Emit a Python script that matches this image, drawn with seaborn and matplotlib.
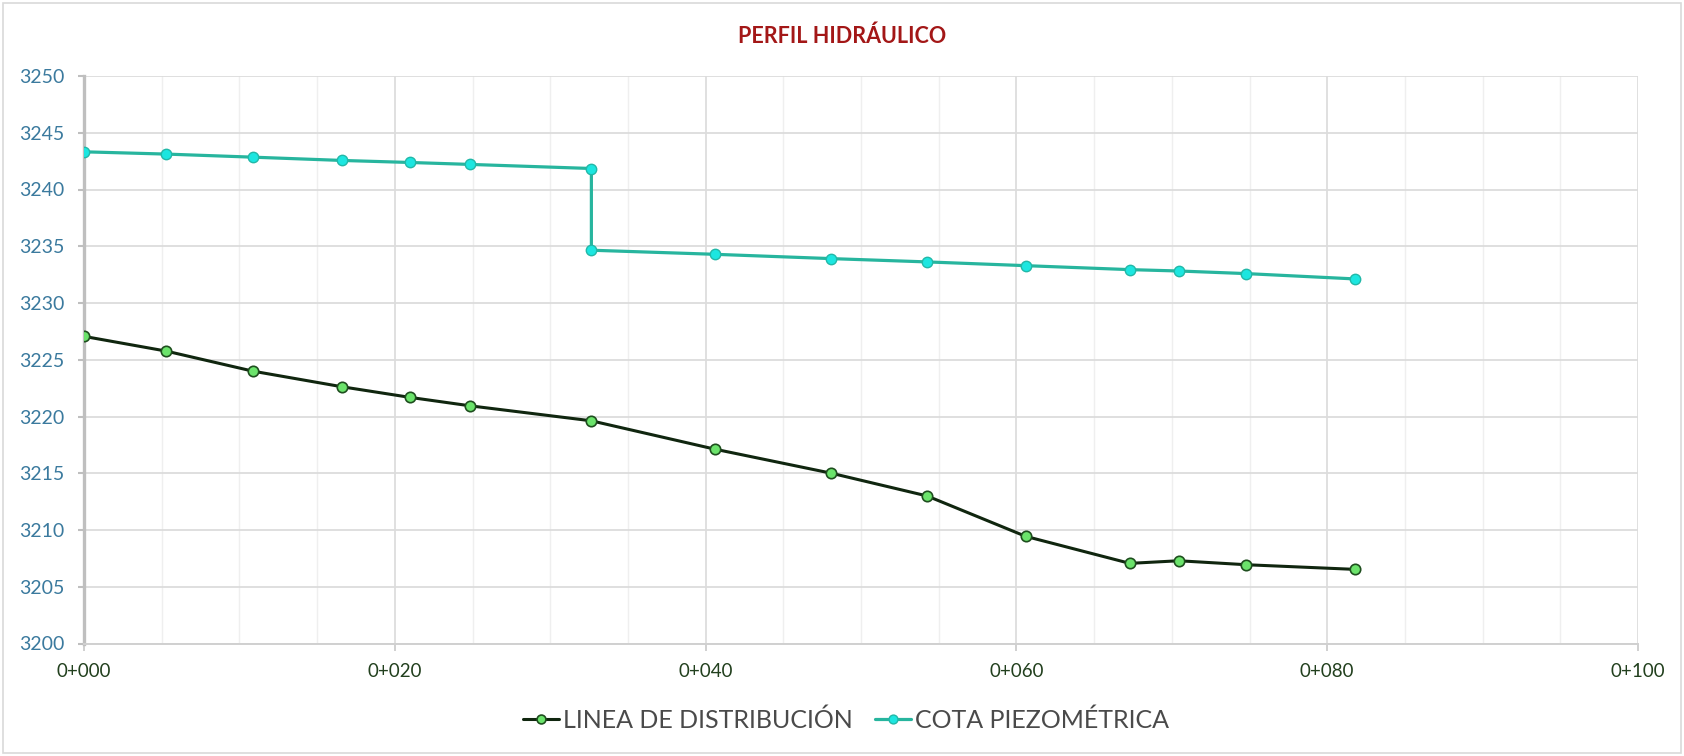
import matplotlib
matplotlib.use("Agg")
import matplotlib.pyplot as plt
from matplotlib.ticker import MultipleLocator, FixedLocator
from matplotlib.patches import Rectangle
import seaborn as sns

# Stations (m) and elevations (m.s.n.m.)
dist_stations = [0.0, 5.3, 10.85, 16.6, 21.0, 24.85, 32.65, 40.6, 48.1,
                 54.25, 60.6, 67.3, 70.45, 74.8, 81.8]
dist_elev = [3227.06, 3225.76, 3224.00, 3222.62, 3221.68, 3220.94, 3219.62,
             3217.12, 3215.00, 3213.00, 3209.44, 3207.06, 3207.29, 3206.94,
             3206.53]

piezo_stations = [0.0, 5.3, 10.85, 16.6, 21.0, 24.85, 32.65, 32.65, 40.6,
                  48.1, 54.25, 60.6, 67.3, 70.45, 74.8, 81.8]
piezo_elev = [3243.32, 3243.12, 3242.85, 3242.56, 3242.38, 3242.21, 3241.85,
              3234.65, 3234.29, 3233.91, 3233.62, 3233.29, 3232.94, 3232.82,
              3232.59, 3232.12]

x_ticks = [0, 20, 40, 60, 80, 100]
x_tick_labels = ["0+000", "0+020", "0+040", "0+060", "0+080", "0+100"]
y_ticks = [3200, 3205, 3210, 3215, 3220, 3225, 3230, 3235, 3240, 3245, 3250]

series_names = ["LINEA DE DISTRIBUCIÓN", "COTA PIEZOMÉTRICA"]
title_text = "PERFIL HIDRÁULICO"

sns.set_theme(style="white")
plt.rcParams["font.family"] = ["Lato", "DejaVu Sans"]

fig = plt.figure(figsize=(16.84, 7.56), dpi=100)
ax = fig.add_axes([84 / 1684, 1 - 643.5 / 756, (1638 - 84) / 1684, (643.5 - 76) / 756])

# chart-area frame
fig.patches.append(Rectangle((3 / 1684, 3 / 756), 1 - 6 / 1684, 1 - 6 / 756,
                             transform=fig.transFigure, fill=False,
                             edgecolor="#D9D9D9", linewidth=1.2))

sns.lineplot(x=dist_stations, y=dist_elev, ax=ax, estimator=None, sort=False,
             color="#10260F", linewidth=2.2, marker="o", markersize=7.5,
             markerfacecolor="#6BE36B", markeredgecolor="#1F4F1F",
             markeredgewidth=1.2, label=series_names[0], zorder=4)
sns.lineplot(x=piezo_stations, y=piezo_elev, ax=ax, estimator=None, sort=False,
             color="#27B59E", linewidth=2.3, marker="o", markersize=7.5,
             markerfacecolor="#1CE6E0", markeredgecolor="#22B8A8",
             markeredgewidth=1.0, label=series_names[1], zorder=4)

ax.set_xlim(0, 100)
ax.set_ylim(3200, 3250)
ax.xaxis.set_major_locator(FixedLocator(x_ticks))
ax.set_xticklabels(x_tick_labels)
ax.xaxis.set_minor_locator(MultipleLocator(5))
ax.yaxis.set_major_locator(FixedLocator(y_ticks))
ax.set_yticklabels([str(v) for v in y_ticks])

ax.grid(which="minor", axis="x", color="#EFEFEF", linewidth=1.0)
ax.grid(which="major", axis="x", color="#DADADA", linewidth=1.2)
ax.grid(which="major", axis="y", color="#DCDCDC", linewidth=1.3)
ax.set_axisbelow(True)

for side in ["top", "right"]:
    ax.spines[side].set_visible(False)
ax.spines["left"].set_color("#BFBFBF")
ax.spines["left"].set_linewidth(2.4)
ax.spines["bottom"].set_color("#D0D0D0")
ax.spines["bottom"].set_linewidth(1.4)

ax.tick_params(axis="y", which="major", direction="out", length=4, width=1.5,
               color="#BFBFBF", pad=10, labelsize=14, labelcolor="#3B7A9E", left=True)
ax.tick_params(axis="x", which="major", direction="out", length=5, width=1.2,
               color="#C8C8C8", pad=9, labelsize=13.5, labelcolor="#22401E", bottom=True)
ax.tick_params(axis="x", which="minor", length=0)
ax.set_xlabel("")
ax.set_ylabel("")

fig.text(0.5, 1 - 36 / 756, title_text, ha="center", va="center",
         fontsize=15.5, fontweight="bold", color="#A31717")

handles, labels = ax.get_legend_handles_labels()
ax.legend_.remove()
fig.legend(handles, labels, loc="center", bbox_to_anchor=(846 / 1684, 1 - 720 / 756),
           ncol=2, frameon=False, handlelength=1.45, handletextpad=0.15,
           columnspacing=0.9, prop={"family": ["Lato", "DejaVu Sans"], "size": 18,
                                    "weight": "normal"},
           labelcolor="#4A4A4A", markerscale=0.85)

fig.savefig("out.png", dpi=100)
